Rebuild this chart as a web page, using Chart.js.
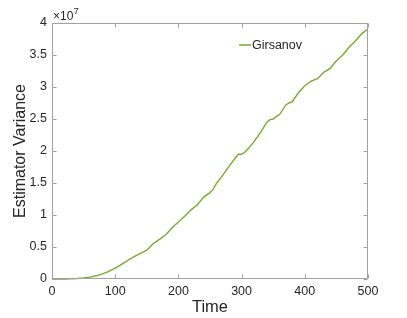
<!DOCTYPE html>
<html>
<head>
<meta charset="utf-8">
<script src="https://cdn.jsdelivr.net/npm/chart.js@4/dist/chart.umd.min.js"></script>
<style>
html,body{margin:0;padding:0;background:#fff;}
canvas{display:block;}
</style>
</head>
<body>
<canvas id="c" width="407" height="318"></canvas>
<script>
// Data (values in units of 1e7)
const times = [0,10,20,30,40,50,60,70,80,90,100,110,120,130,140,150,155,160,170,180,190,200,210,220,230,240,250,255,260,270,280,290,295,300,305,310,320,330,340,345,350,355,360,370,375,380,390,400,410,415,420,430,440,450,460,470,480,490,500];
const girsanov = [0,0,0.001,0.003,0.007,0.015,0.03,0.05,0.08,0.12,0.17,0.23,0.29,0.35,0.40,0.45,0.50,0.55,0.62,0.69,0.80,0.89,0.98,1.08,1.16,1.28,1.35,1.40,1.49,1.62,1.76,1.89,1.95,1.95,1.98,2.03,2.15,2.29,2.45,2.49,2.50,2.54,2.57,2.72,2.75,2.77,2.91,3.02,3.09,3.11,3.13,3.23,3.29,3.41,3.50,3.62,3.72,3.83,3.91];
const seriesLabel = 'Girsanov';
const xTitle = 'Time';
const yTitle = 'Estimator Variance';
const expBase = '\u00d710';
const expPow = '7';

const FONT = "'Liberation Sans', Arial, Helvetica, sans-serif";
const TXT = '#262626';
const AXC = '#a0a0a0';
const LINEC = '#77ac30';

const boxPlugin = {
  id: 'box',
  afterDraw(chart) {
    const ctx = chart.ctx;
    const a = chart.chartArea;
    const xs = chart.scales.x, ys = chart.scales.y;
    ctx.save();
    ctx.strokeStyle = AXC;
    ctx.lineWidth = 1;
    const L = Math.round(a.left) + 0.5, R = Math.round(a.right) - 0.5;
    const T = Math.round(a.top) + 0.5, B = Math.round(a.bottom) - 0.5;
    ctx.beginPath();
    ctx.rect(L, T, R - L, B - T);
    ctx.stroke();
    const tl = 4;
    ctx.beginPath();
    xs.ticks.forEach(t => {
      const px = Math.round(xs.getPixelForValue(t.value)) + 0.5;
      ctx.moveTo(px, B); ctx.lineTo(px, B - tl);
      ctx.moveTo(px, T); ctx.lineTo(px, T + tl);
    });
    ys.ticks.forEach(t => {
      const py = Math.round(ys.getPixelForValue(t.value)) + 0.5;
      ctx.moveTo(L, py); ctx.lineTo(L + tl, py);
      ctx.moveTo(R, py); ctx.lineTo(R - tl, py);
    });
    ctx.stroke();
    // exponent label
    ctx.fillStyle = TXT;
    ctx.textBaseline = 'middle';
    ctx.textAlign = 'left';
    ctx.font = '12px ' + FONT;
    const ex = a.left + 1, ey = a.top - 6;
    ctx.fillText(expBase, ex, ey);
    const w = ctx.measureText(expBase).width;
    ctx.font = '9px ' + FONT;
    ctx.fillText(expPow, ex + w + 0.5, ey - 5);
    // legend
    const ds = chart.data.datasets[0];
    const lx = a.left + 187, ly = a.top + 22;
    ctx.strokeStyle = ds.borderColor;
    ctx.lineWidth = 1.5;
    ctx.beginPath();
    ctx.moveTo(lx, ly); ctx.lineTo(lx + 12, ly);
    ctx.stroke();
    ctx.font = '12.5px ' + FONT;
    ctx.fillStyle = TXT;
    ctx.fillText(ds.label, lx + 13, ly + 0.5);
    ctx.restore();
  }
};

new Chart(document.getElementById('c'), {
  type: 'line',
  data: {
    datasets: [{
      label: seriesLabel,
      data: times.map((t, i) => ({x: t, y: girsanov[i]})),
      borderColor: LINEC,
      borderWidth: 1.4,
      pointRadius: 0,
      tension: 0,
      fill: false,
      clip: false
    }]
  },
  options: {
    responsive: false,
    animation: false,
    devicePixelRatio: 1,
    layout: {padding: {left: 0, top: 23, right: 39, bottom: 0}},
    plugins: {legend: {display: false}, tooltip: {enabled: false}},
    scales: {
      x: {
        type: 'linear', min: 0, max: 500,
        ticks: {stepSize: 100, color: TXT, font: {family: FONT, size: 12.5}, padding: 5, maxRotation: 0},
        grid: {display: false, drawTicks: false},
        border: {display: false},
        title: {display: true, text: xTitle, color: TXT, font: {family: FONT, size: 16.5}, padding: {top: 0, bottom: 1}},
        afterFit(s) { s.height = 39; }
      },
      y: {
        type: 'linear', min: 0, max: 4,
        ticks: {stepSize: 0.5, color: TXT, font: {family: FONT, size: 12.5}, padding: 5,
                callback: v => String(Math.round(v * 10) / 10)},
        grid: {display: false, drawTicks: false},
        border: {display: false},
        title: {display: true, text: yTitle, color: TXT, font: {family: FONT, size: 16}, padding: {top: 11, bottom: 0}},
        afterFit(s) { s.width = 52; }
      }
    }
  },
  plugins: [boxPlugin]
});
</script>
</body>
</html>
